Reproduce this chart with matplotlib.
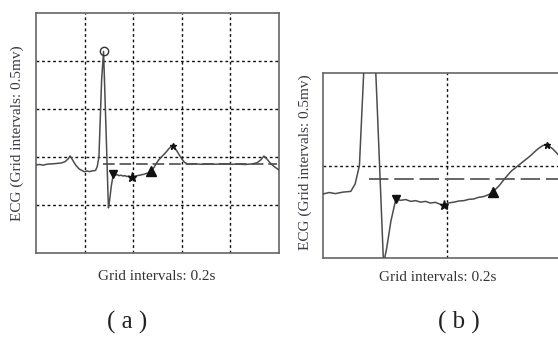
import matplotlib
matplotlib.use('Agg')
import matplotlib.pyplot as plt

# ECG beat, time in s and amplitude in mV
t = [0.000, 0.015, 0.030, 0.045, 0.060, 0.075, 0.090, 0.105, 0.120, 0.132,
     0.140, 0.146, 0.155, 0.165, 0.178, 0.190, 0.200, 0.210, 0.220, 0.232,
     0.245, 0.252, 0.259, 0.270, 0.278, 0.288, 0.298, 0.303, 0.310, 0.318,
     0.326, 0.334, 0.342, 0.350, 0.358, 0.366, 0.374, 0.382, 0.390, 0.396,
     0.404, 0.412, 0.420, 0.428, 0.436, 0.444, 0.452, 0.460, 0.468, 0.475,
     0.485, 0.495, 0.505, 0.520, 0.535, 0.548, 0.556, 0.563, 0.572, 0.580,
     0.590, 0.600, 0.612, 0.625, 0.650, 0.680, 0.710, 0.740, 0.770, 0.800,
     0.830, 0.860, 0.890, 0.910, 0.925, 0.938, 0.950, 0.963, 0.980, 1.000]
ecg = [-0.083, -0.078, -0.085, -0.075, -0.072, -0.070, -0.066, -0.062, -0.048, -0.020,
       0.010, -0.010, -0.050, -0.090, -0.125, -0.142, -0.154, -0.146, -0.152, -0.144,
       -0.140, -0.100, 0.000, 0.800, 1.100, 0.300, -0.530, -0.450, -0.300, -0.182,
       -0.188, -0.184, -0.194, -0.190, -0.198, -0.194, -0.203, -0.199, -0.210, -0.212,
       -0.202, -0.198, -0.192, -0.190, -0.183, -0.181, -0.172, -0.168, -0.158, -0.143,
       -0.110, -0.068, -0.030, 0.010, 0.050, 0.090, 0.108, 0.112, 0.090, 0.062,
       0.020, -0.020, -0.058, -0.073, -0.070, -0.076, -0.072, -0.075, -0.071, -0.076,
       -0.074, -0.078, -0.072, -0.060, -0.030, 0.010, -0.020, -0.060, -0.100, -0.135]

# detected fiducial points
r_peak = (0.278, 1.100)
st_start = (0.318, -0.182)
st_mid = (0.396, -0.212)
st_end = (0.475, -0.143)
t_peak = (0.563, 0.112)
baseline = -0.074

trace_c = '#4d4d4d'
spine_c = '#666666'
serif = 'Liberation Serif'

fig = plt.figure(figsize=(5.58, 3.41), dpi=100)
ax_a = fig.add_axes([36/558, 1-253/341, 243/558, 240/341])
ax_b = fig.add_axes([323/558, 1-258/341, 247/558, 185/341])


def draw(ax, xlim, ylim, xgrid, ygrid, dash):
    ax.plot(t, ecg, color=trace_c, lw=1.1, zorder=3)
    ax.plot([0.275, 0.99], [baseline, baseline], color='#666666', lw=1.4,
            dashes=dash, zorder=2)
    ax.plot(*r_peak, 'o', ms=6, mfc='none', mec='#333333', mew=1.0, zorder=4)
    ax.plot(*st_start, 'v', ms=6, color='#111111', zorder=4)
    ax.plot(*st_mid, '*', ms=6.5, color='#111111', zorder=4)
    ax.plot(*st_end, '^', ms=6.5, color='#111111', zorder=4)
    ax.plot(*t_peak, '*', ms=5, color='#111111', zorder=4)
    ax.set_xlim(*xlim)
    ax.set_ylim(*ylim)
    ax.set_xticks(xgrid)
    ax.set_yticks(ygrid)
    ax.tick_params(length=0, labelbottom=False, labelleft=False)
    ax.grid(True, color='#111111', lw=1.0, linestyle=(0, (2, 2)), zorder=1)
    for s in ax.spines.values():
        s.set_color(spine_c)
        s.set_linewidth(1.2)


draw(ax_a, (0, 1.0), (-1.0, 1.5), [0.2, 0.4, 0.6, 0.8], [-0.5, 0, 0.5, 1.0], (6, 2.5))
draw(ax_b, (0.2, 0.6), (-0.5, 0.5), [0.4], [0], (10, 3))

for ax, yx, yy, xx, xy in [(ax_a, -0.078, 0.5, 0.498, -0.1),
                           (ax_b, -0.073, 0.52, 0.466, -0.108)]:
    ax.set_ylabel('ECG (Grid intervals: 0.5mv)', family=serif, fontsize=11,
                  color='#3a3a48', va='center')
    ax.yaxis.set_label_coords(yx, yy)
    ax.set_xlabel('Grid intervals: 0.2s', family=serif, fontsize=11,
                  color='#333333', va='center')
    ax.xaxis.set_label_coords(xx, xy)

fig.text(127.5/558, 1-322/341, '( a )', family=serif, fontsize=18,
         color='#222222', ha='center', va='center')
fig.text(459/558, 1-322/341, '( b )', family=serif, fontsize=18,
         color='#222222', ha='center', va='center')

fig.savefig('out.png', dpi=100)
